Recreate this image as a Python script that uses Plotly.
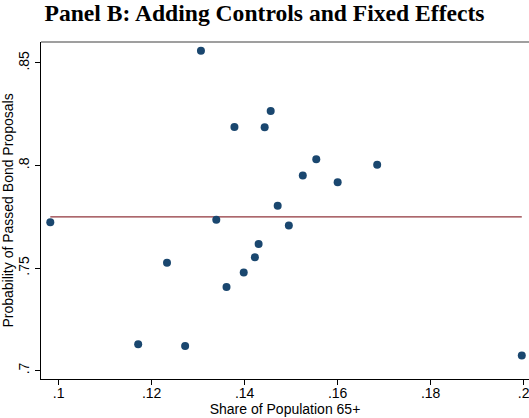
import plotly.graph_objects as go

# Binned scatter data
share_65 = [0.0982, 0.1306, 0.1378, 0.1443, 0.1456, 0.1554, 0.1685, 0.1525, 0.1600, 0.1471,
            0.1339, 0.1495, 0.1430, 0.1233, 0.1422, 0.1398, 0.1361, 0.1171, 0.1272, 0.1996]
prob_passed = [0.7723, 0.8559, 0.8188, 0.8186, 0.8266, 0.8030, 0.8004, 0.7951, 0.7918, 0.7804,
               0.7736, 0.7707, 0.7617, 0.7526, 0.7552, 0.7478, 0.7408, 0.7128, 0.7120, 0.7074]

# Fitted line (flat)
fit_x = [0.0982, 0.1996]
fit_y = [0.7749, 0.7749]

x_tickvals = [0.10, 0.12, 0.14, 0.16, 0.18, 0.20]
x_ticktext = ['.1', '.12', '.14', '.16', '.18', '.2']
y_tickvals = [0.70, 0.75, 0.80, 0.85]
y_ticktext = ['.7', '.75', '.8', '.85']

fig = go.Figure()
fig.add_trace(go.Scatter(x=fit_x, y=fit_y, mode='lines',
                         line=dict(color='#90353b', width=1.3), showlegend=False, hoverinfo='skip'))
fig.add_trace(go.Scatter(x=share_65, y=prob_passed, mode='markers', cliponaxis=False,
                         marker=dict(color='#1a476f', size=8, line=dict(width=0)), showlegend=False))

font_family = 'Liberation Sans, Arial, Helvetica, sans-serif'
fig.update_layout(
    width=529, height=418,
    margin=dict(l=41, r=0, t=42, b=39),
    paper_bgcolor='white', plot_bgcolor='white',
    font=dict(family=font_family, size=14, color='black'),
    title=dict(text='<b>Panel B: Adding Controls and Fixed Effects</b>',
               font=dict(family='Liberation Serif, Times New Roman, serif', size=23.6, color='black'),
               x=0.5, xanchor='center', xref='container', y=1 - 13 / 418, yanchor='middle', yref='container'),
    xaxis=dict(range=[0.0962, 0.20115], tickvals=x_tickvals, ticktext=x_ticktext,
               ticks='outside', ticklen=5, tickcolor='black', showline=True, linecolor='black',
               linewidth=1.2, showgrid=False, zeroline=False, automargin=False,
               ticklabeloverflow='allow', ticklabelstandoff=-4,
               title=dict(text='Share of Population 65+', standoff=0, font=dict(size=14))),
    yaxis=dict(range=[0.6959, 0.8602], tickvals=y_tickvals, ticktext=y_ticktext,
               ticks='outside', ticklen=5, tickcolor='black', tickangle=-90,
               showline=True, linecolor='black', linewidth=1.2,
               showgrid=False, zeroline=False, automargin=False,
               title=dict(text='Probability of Passed Bond Proposals', standoff=4, font=dict(size=14))),
    shapes=[dict(type='line', xref='paper', yref='paper', x0=0, x1=1, y0=1, y1=1,
                 line=dict(color='#7f7f7f', width=1.5))],
)

fig.write_html('out.html', config={'displayModeBar': False},
               post_script="document.body.style.margin='0';document.body.style.overflow='hidden';")
